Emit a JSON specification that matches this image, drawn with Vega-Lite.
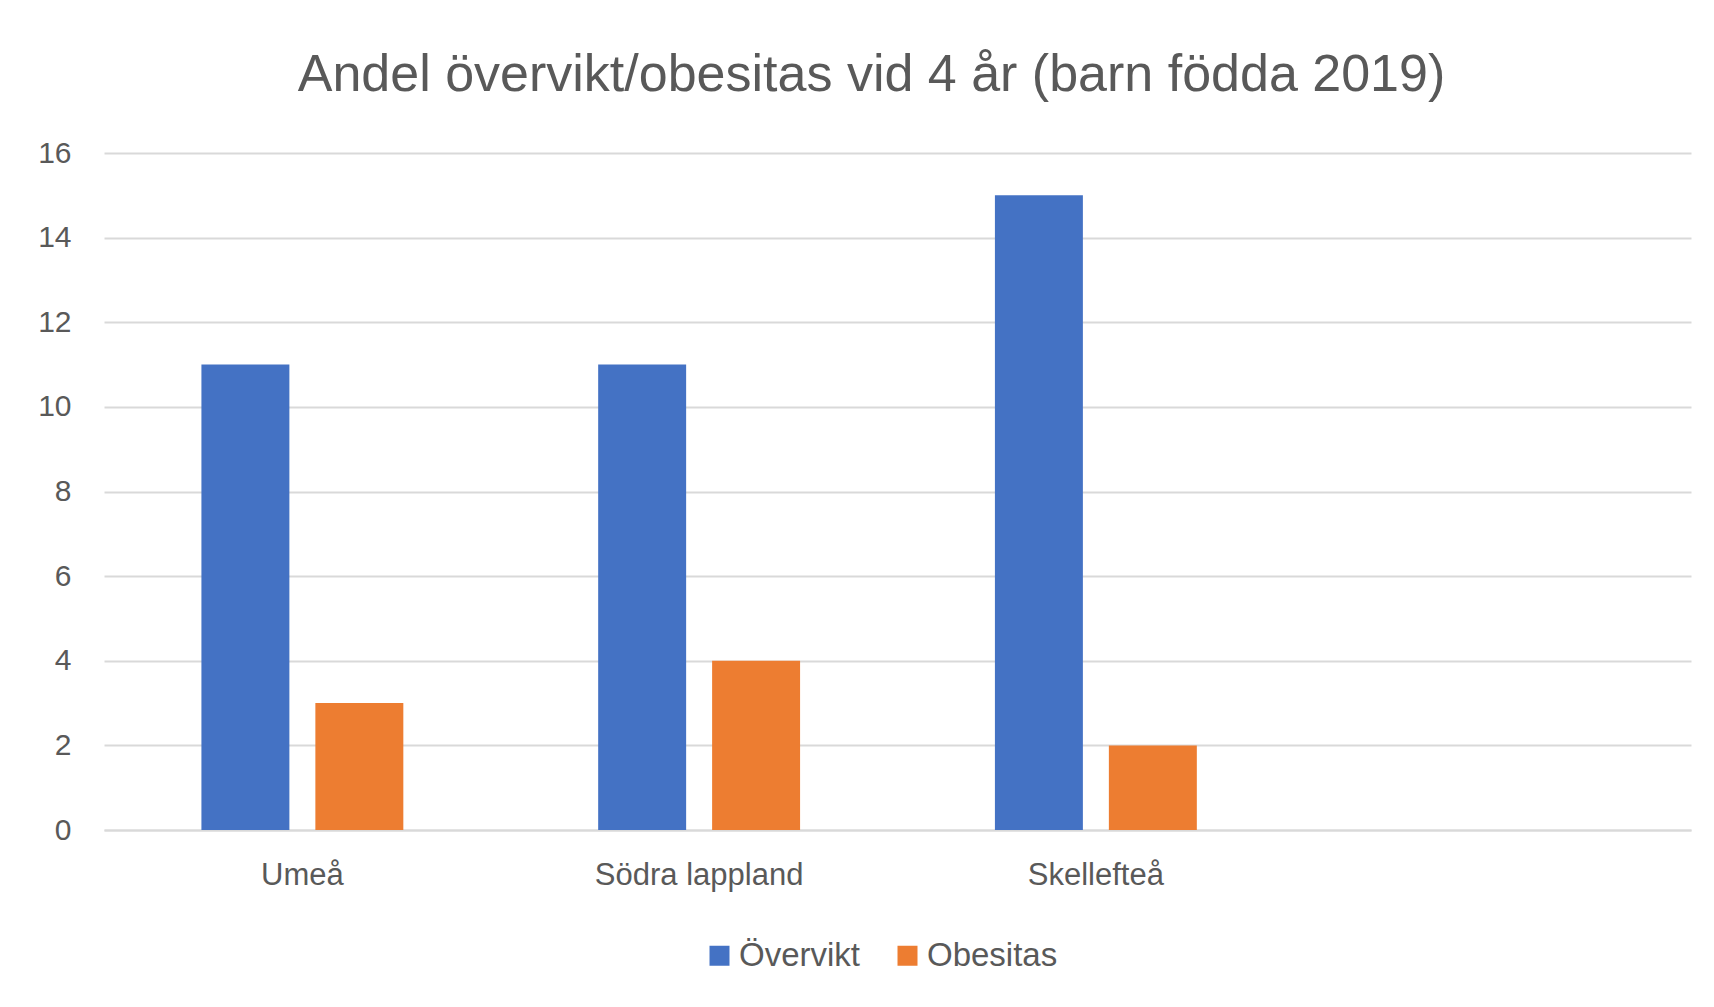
{
  "$schema": "https://vega.github.io/schema/vega-lite/v6.json",
  "autosize": "none",
  "width": 1587,
  "height": 677,
  "padding": {"left": 104, "top": 153, "right": 23, "bottom": 177},
  "background": "white",
  "title": {
    "text": "Andel övervikt/obesitas vid 4 år (barn födda 2019)",
    "anchor": "middle",
    "font": "Liberation Sans",
    "fontSize": 52,
    "fontWeight": "normal",
    "color": "#595959",
    "dx": -26,
    "offset": 36
  },
  "data": {
    "values": [
      {"omrade": "Umeå", "serie": "Övervikt", "andel": 11},
      {"omrade": "Umeå", "serie": "Obesitas", "andel": 3},
      {"omrade": "Södra lappland", "serie": "Övervikt", "andel": 11},
      {"omrade": "Södra lappland", "serie": "Obesitas", "andel": 4},
      {"omrade": "Skellefteå", "serie": "Övervikt", "andel": 15},
      {"omrade": "Skellefteå", "serie": "Obesitas", "andel": 2}
    ]
  },
  "mark": {"type": "bar"},
  "encoding": {
    "x": {
      "field": "omrade",
      "type": "nominal",
      "sort": null,
      "scale": {"domain": ["Umeå", "Södra lappland", "Skellefteå", " "], "paddingInner": 0, "paddingOuter": 0},
      "axis": {
        "title": null,
        "labelAngle": 0,
        "labelFont": "Liberation Sans",
        "labelFontSize": 31,
        "labelColor": "#595959",
        "labelPadding": 30,
        "labelLimit": 0,
        "ticks": false,
        "domainColor": "#d9d9d9",
        "domainWidth": 2,
        "grid": false
      }
    },
    "xOffset": {
      "field": "serie",
      "type": "nominal",
      "scale": {"domain": ["Övervikt", "Obesitas"], "paddingInner": 0.228, "paddingOuter": 0.855}
    },
    "y": {
      "field": "andel",
      "type": "quantitative",
      "scale": {"domain": [0, 16], "nice": false},
      "axis": {
        "title": null,
        "values": [0, 2, 4, 6, 8, 10, 12, 14, 16],
        "labelFont": "Liberation Sans",
        "labelFontSize": 30,
        "labelColor": "#595959",
        "labelPadding": 33,
        "ticks": false,
        "domain": false,
        "gridColor": "#d9d9d9",
        "gridWidth": 2
      }
    },
    "color": {
      "field": "serie",
      "type": "nominal",
      "scale": {"domain": ["Övervikt", "Obesitas"], "range": ["#4472C4", "#ED7D31"]},
      "legend": {
        "title": null,
        "orient": "none",
        "direction": "horizontal",
        "legendX": 599,
        "legendY": 786,
        "symbolType": "square",
        "symbolSize": 400,
        "symbolStrokeWidth": 0,
        "labelFont": "Liberation Sans",
        "labelFontSize": 33,
        "labelColor": "#595959",
        "labelOffset": 3,
        "columnPadding": 30
      }
    }
  },
  "config": {"view": {"stroke": null}}
}
